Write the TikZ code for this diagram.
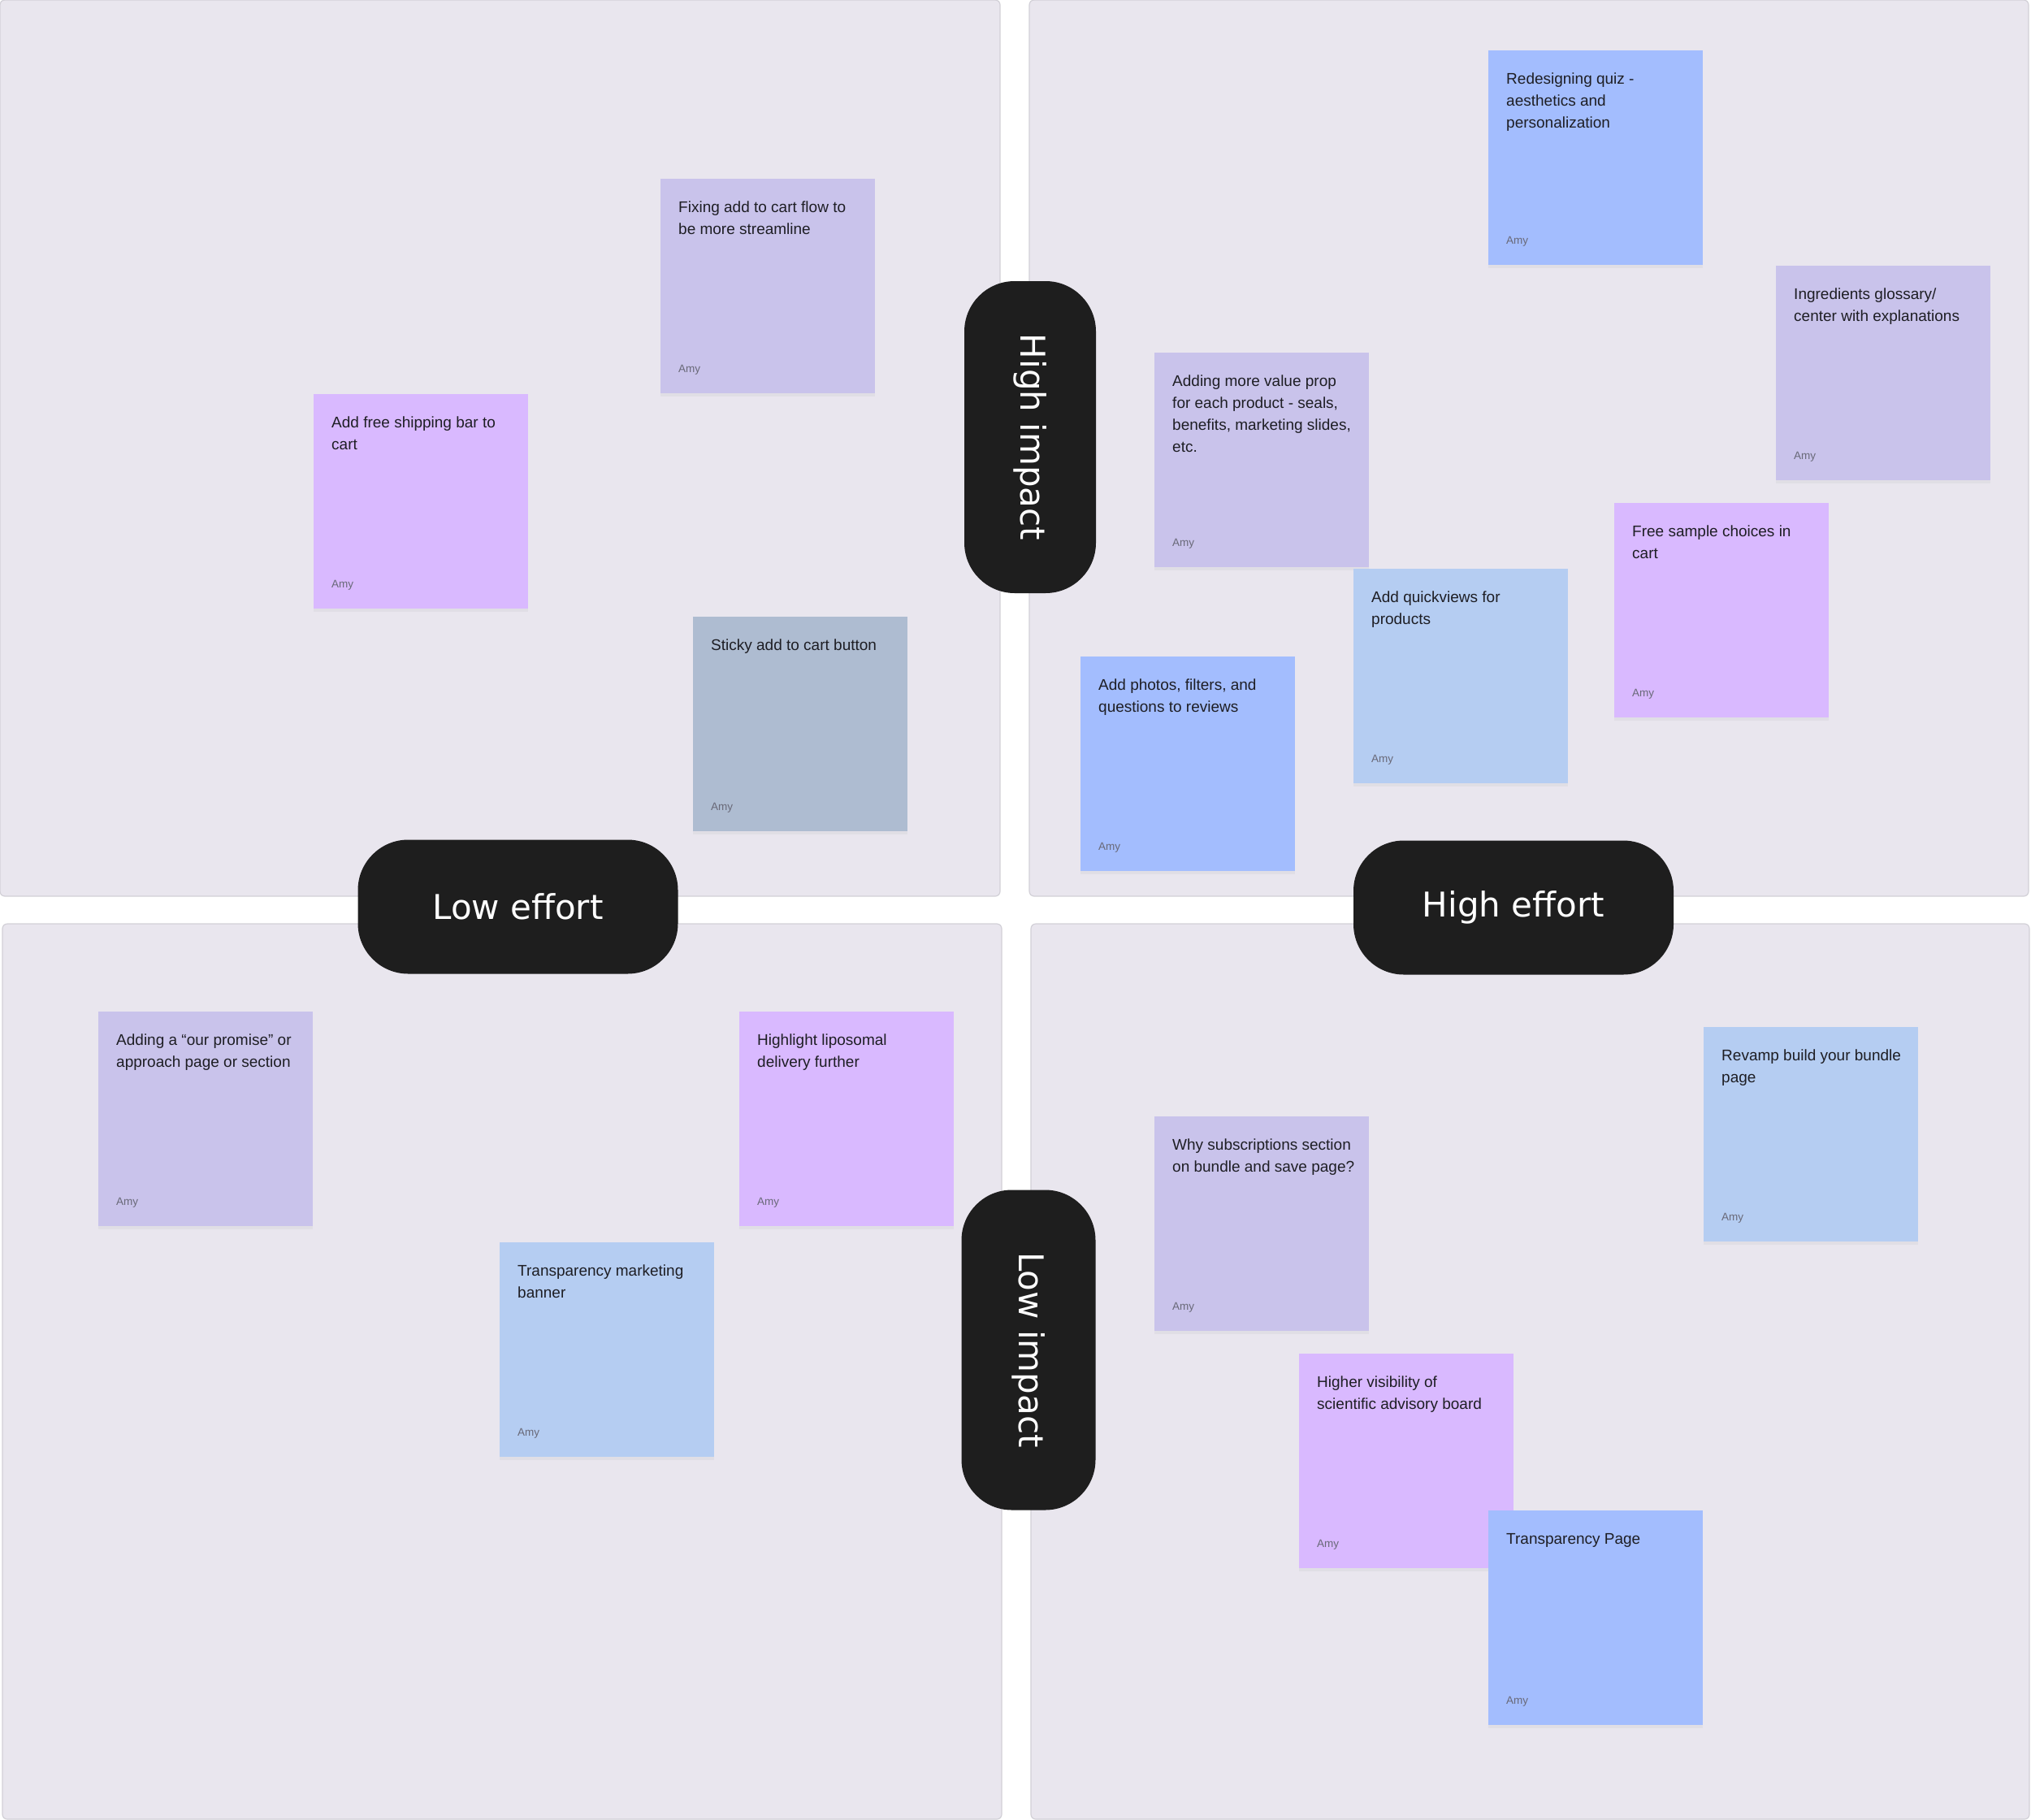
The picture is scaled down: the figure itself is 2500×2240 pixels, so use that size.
\documentclass[tikz,border=0pt]{standalone}
\usepackage{fontspec}
\setmainfont{Liberation Sans}
\newfontfamily\pillfont{DejaVu Sans}
\usetikzlibrary{shadows}
\definecolor{qdFill}{RGB}{233, 230, 238}
\definecolor{qdLine}{RGB}{210, 208, 215}
\definecolor{pillBlack}{RGB}{30, 30, 30}
\definecolor{stLavender}{RGB}{201, 195, 235}
\definecolor{stViolet}{RGB}{217, 185, 255}
\definecolor{stBlue}{RGB}{163, 189, 254}
\definecolor{stSky}{RGB}{181, 205, 242}
\definecolor{stSlate}{RGB}{174, 188, 209}
\definecolor{stInk}{RGB}{30, 30, 36}
\definecolor{stAuthor}{RGB}{105, 105, 120}
\tikzset{
  quad/.style={draw=qdLine, line width=1.2pt, fill=qdFill, rounded corners=6pt},
  author/.style={anchor=base west, inner sep=0pt, text=stAuthor, font=\fontsize{13.5}{16}\selectfont},
  note/.style={rectangle, fill=#1, anchor=north west, minimum width=264pt, minimum height=264pt, inner sep=0pt,
    drop shadow={shadow xshift=0pt, shadow yshift=-4pt, opacity=0.08},
    label={[author, xshift=22pt, yshift=26pt]south west:Amy}},
  note/.default=stLavender,
  notetext/.style={anchor=north west, inner sep=0pt, align=left, text=stInk, font=\fontsize{19}{27}\selectfont},
  pill/.style={rectangle, rounded corners=62pt, fill=pillBlack, text=white, minimum width=394pt, minimum height=165pt, inner sep=0pt, font=\pillfont\fontsize{42}{48}\selectfont},
}

\begin{document}
\begin{tikzpicture}[x=1pt, y=-1pt]
  \useasboundingbox (0,0) rectangle (2500,2240);
  \fill[white] (0,0) rectangle (2500,2240);

  % Quadrants
  \draw[quad] (0,0) rectangle (1231,1103);
  \draw[quad] (1267,0) rectangle (2497,1103);
  \draw[quad] (3,1137) rectangle (1233,2239);
  \draw[quad] (1269,1137) rectangle (2498,2239);

  % Low effort / high impact
  \node[note=stLavender] (cartflow) at (813,220) {};
  \node[notetext] (cartflow-t) at ([shift={(22,28)}]cartflow.north west) {Fixing add to cart flow to\\be more streamline};
  \node[note=stViolet] (shipbar) at (386,485) {};
  \node[notetext] (shipbar-t) at ([shift={(22,28)}]shipbar.north west) {Add free shipping bar to\\cart};
  \node[note=stSlate] (stickybtn) at (853,759) {};
  \node[notetext] (stickybtn-t) at ([shift={(22,28)}]stickybtn.north west) {Sticky add to cart button};

  % High effort / high impact
  \node[note=stBlue] (quiz) at (1832,62) {};
  \node[notetext] (quiz-t) at ([shift={(22,28)}]quiz.north west) {Redesigning quiz -\\aesthetics and\\personalization};
  \node[note=stLavender] (glossary) at (2186,327) {};
  \node[notetext] (glossary-t) at ([shift={(22,28)}]glossary.north west) {Ingredients glossary/\\center with explanations};
  \node[note=stLavender] (valueprop) at (1421,434) {};
  \node[notetext] (valueprop-t) at ([shift={(22,28)}]valueprop.north west) {Adding more value prop\\for each product - seals,\\benefits, marketing slides,\\etc.};
  \node[note=stViolet] (samples) at (1987,619) {};
  \node[notetext] (samples-t) at ([shift={(22,28)}]samples.north west) {Free sample choices in\\cart};
  \node[note=stSky] (quickview) at (1666,700) {};
  \node[notetext] (quickview-t) at ([shift={(22,28)}]quickview.north west) {Add quickviews for\\products};
  \node[note=stBlue] (reviews) at (1330,808) {};
  \node[notetext] (reviews-t) at ([shift={(22,28)}]reviews.north west) {Add photos, filters, and\\questions to reviews};

  % Low effort / low impact
  \node[note=stLavender] (promise) at (121,1245) {};
  \node[notetext] (promise-t) at ([shift={(22,28)}]promise.north west) {Adding a “our promise” or\\approach page or section};
  \node[note=stViolet] (liposomal) at (910,1245) {};
  \node[notetext] (liposomal-t) at ([shift={(22,28)}]liposomal.north west) {Highlight liposomal\\delivery further};
  \node[note=stSky] (banner) at (615,1529) {};
  \node[notetext] (banner-t) at ([shift={(22,28)}]banner.north west) {Transparency marketing\\banner};

  % High effort / low impact
  \node[note=stSky] (bundle) at (2097,1264) {};
  \node[notetext] (bundle-t) at ([shift={(22,28)}]bundle.north west) {Revamp build your bundle\\page};
  \node[note=stLavender] (subs) at (1421,1374) {};
  \node[notetext] (subs-t) at ([shift={(22,28)}]subs.north west) {Why subscriptions section\\on bundle and save page?};
  \node[note=stViolet] (advisory) at (1599,1666) {};
  \node[notetext] (advisory-t) at ([shift={(22,28)}]advisory.north west) {Higher visibility of\\scientific advisory board};
  \node[note=stBlue] (transpage) at (1832,1859) {};
  \node[notetext] (transpage-t) at ([shift={(22,28)}]transpage.north west) {Transparency Page};

  % Axis pills
  \node[pill, rotate=-90, minimum width=384pt, minimum height=162pt] (hiimpact) at (1268,538) {High impact};
  \node[pill] (loeffort) at (637.5,1116) {Low effort};
  \node[pill] (hieffort) at (1863,1117) {High effort};
  \node[pill, rotate=-90] (loimpact) at (1266,1661.5) {Low impact};
\end{tikzpicture}
\end{document}
